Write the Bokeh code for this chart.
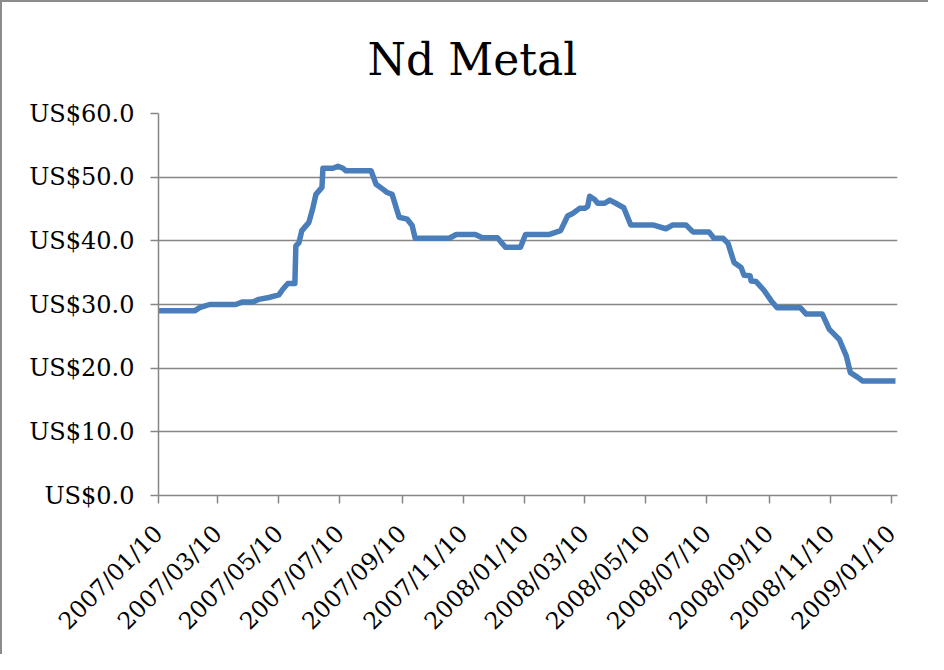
import pandas as pd
from bokeh.plotting import figure
from bokeh.models import FixedTicker, PrintfTickFormatter, DatetimeTickFormatter, Range1d
from bokeh.embed import file_html
from bokeh.resources import INLINE
from math import pi

# Data (Nd metal price, US$)
dates = [
    "2007-01-10", "2007-02-15", "2007-02-20", "2007-03-02", "2007-03-28", "2007-04-04",
    "2007-04-14", "2007-04-20", "2007-04-30", "2007-05-10", "2007-05-14", "2007-05-19",
    "2007-05-26", "2007-05-27", "2007-05-30", "2007-06-02", "2007-06-09", "2007-06-13",
    "2007-06-16", "2007-06-22", "2007-06-23", "2007-07-03", "2007-07-08", "2007-07-13",
    "2007-07-16", "2007-08-10", "2007-08-15", "2007-08-21", "2007-08-26", "2007-08-31",
    "2007-09-07", "2007-09-15", "2007-09-20", "2007-09-23", "2007-10-27", "2007-11-03",
    "2007-11-22", "2007-11-29", "2007-12-14", "2007-12-22", "2008-01-06", "2008-01-11",
    "2008-02-04", "2008-02-15", "2008-02-22", "2008-02-27", "2008-03-05", "2008-03-10",
    "2008-03-13", "2008-03-15", "2008-03-20", "2008-03-23", "2008-03-30", "2008-04-04",
    "2008-04-10", "2008-04-18", "2008-04-25", "2008-05-17", "2008-05-30", "2008-06-06",
    "2008-06-19", "2008-06-26", "2008-07-12", "2008-07-17", "2008-07-26", "2008-07-31",
    "2008-08-06", "2008-08-13", "2008-08-16", "2008-08-22", "2008-08-23", "2008-08-28",
    "2008-09-05", "2008-09-12", "2008-09-18", "2008-10-11", "2008-10-17", "2008-11-02",
    "2008-11-09", "2008-11-14", "2008-11-19", "2008-11-26", "2008-11-30", "2008-12-07",
    "2008-12-12", "2009-01-14",
]
prices = [
    29.0, 29.0, 29.5, 30.0, 30.0, 30.4,
    30.4, 30.8, 31.1, 31.5, 32.4, 33.3,
    33.3, 39.2, 39.7, 41.6, 42.9, 45.2,
    47.3, 48.4, 51.4, 51.4, 51.7, 51.4,
    51.0, 51.0, 48.9, 48.2, 47.6, 47.3,
    43.7, 43.4, 42.4, 40.4, 40.4, 41.0,
    41.0, 40.5, 40.5, 39.0, 39.0, 41.0,
    41.0, 41.6, 43.9, 44.3, 45.1, 45.1,
    45.4, 47.0, 46.5, 45.9, 45.9, 46.4,
    45.9, 45.2, 42.5, 42.5, 41.9, 42.5,
    42.5, 41.4, 41.4, 40.4, 40.4, 39.6,
    36.6, 35.8, 34.6, 34.5, 33.7, 33.6,
    32.2, 30.6, 29.5, 29.5, 28.5, 28.5,
    26.1, 25.3, 24.5, 21.9, 19.3, 18.6,
    18.0, 18.0,
]
tick_dates = [
    "2007-01-10", "2007-03-10", "2007-05-10", "2007-07-10", "2007-09-10", "2007-11-10",
    "2008-01-10", "2008-03-10", "2008-05-10", "2008-07-10", "2008-09-10", "2008-11-10",
    "2009-01-10",
]
y_ticks = [0, 10, 20, 30, 40, 50, 60]
x_start, x_end = "2007-01-10", "2009-01-16"

FONT = "DejaVu Serif"
GRAY = "#868686"

xs = pd.to_datetime(dates)
tick_ms = [pd.Timestamp(d).value / 1e6 for d in tick_dates]

p = figure(
    width=928, height=654, x_axis_type="datetime",
    output_backend="svg", toolbar_location=None,
    x_range=Range1d(pd.Timestamp(x_start), pd.Timestamp(x_end)),
    y_range=Range1d(0, 60),
    min_border_left=156, min_border_right=33, min_border_bottom=161, min_border_top=111,
    title="Nd Metal",
)
p.styles = {"border-left": "2px solid #8c8c8c", "border-top": "2px solid #8c8c8c"}

p.line(xs, prices, line_color="#4A7EBB", line_width=5.5, line_join="round")

p.title.text_font = FONT
p.title.text_font_size = "44px"
p.title.text_font_style = "normal"
p.title.align = "left"
p.title.offset = 209
p.title.standoff = 58
p.title.text_color = "black"

p.outline_line_color = None
p.xgrid.grid_line_color = None
p.ygrid.grid_line_color = GRAY
p.ygrid.grid_line_width = 1.5
p.ygrid.ticker = FixedTicker(ticks=y_ticks)

p.yaxis.ticker = FixedTicker(ticks=y_ticks)
p.yaxis.formatter = PrintfTickFormatter(format="US$%.1f")
p.xaxis.ticker = FixedTicker(ticks=tick_ms)
fmt = "%Y/%m/%d"
p.xaxis.formatter = DatetimeTickFormatter(
    milliseconds=fmt, seconds=fmt, minsec=fmt, minutes=fmt, hourmin=fmt, hours=fmt,
    days=fmt, months=fmt, years=fmt,
)
p.xaxis.major_label_orientation = pi / 4

for ax in (p.xaxis, p.yaxis):
    ax.axis_line_color = GRAY
    ax.axis_line_width = 1.5
    ax.major_tick_line_color = GRAY
    ax.major_tick_line_width = 1.5
    ax.major_tick_in = 0
    ax.major_tick_out = 8
    ax.minor_tick_line_color = None
    ax.major_label_text_font = FONT
    ax.major_label_text_color = "black"
p.yaxis.major_label_text_font_size = "24px"
p.xaxis.major_label_text_font_size = "23.5px"
p.yaxis.major_label_standoff = 16
p.xaxis.major_label_standoff = 26

open("out.html", "w").write(file_html(p, INLINE))
